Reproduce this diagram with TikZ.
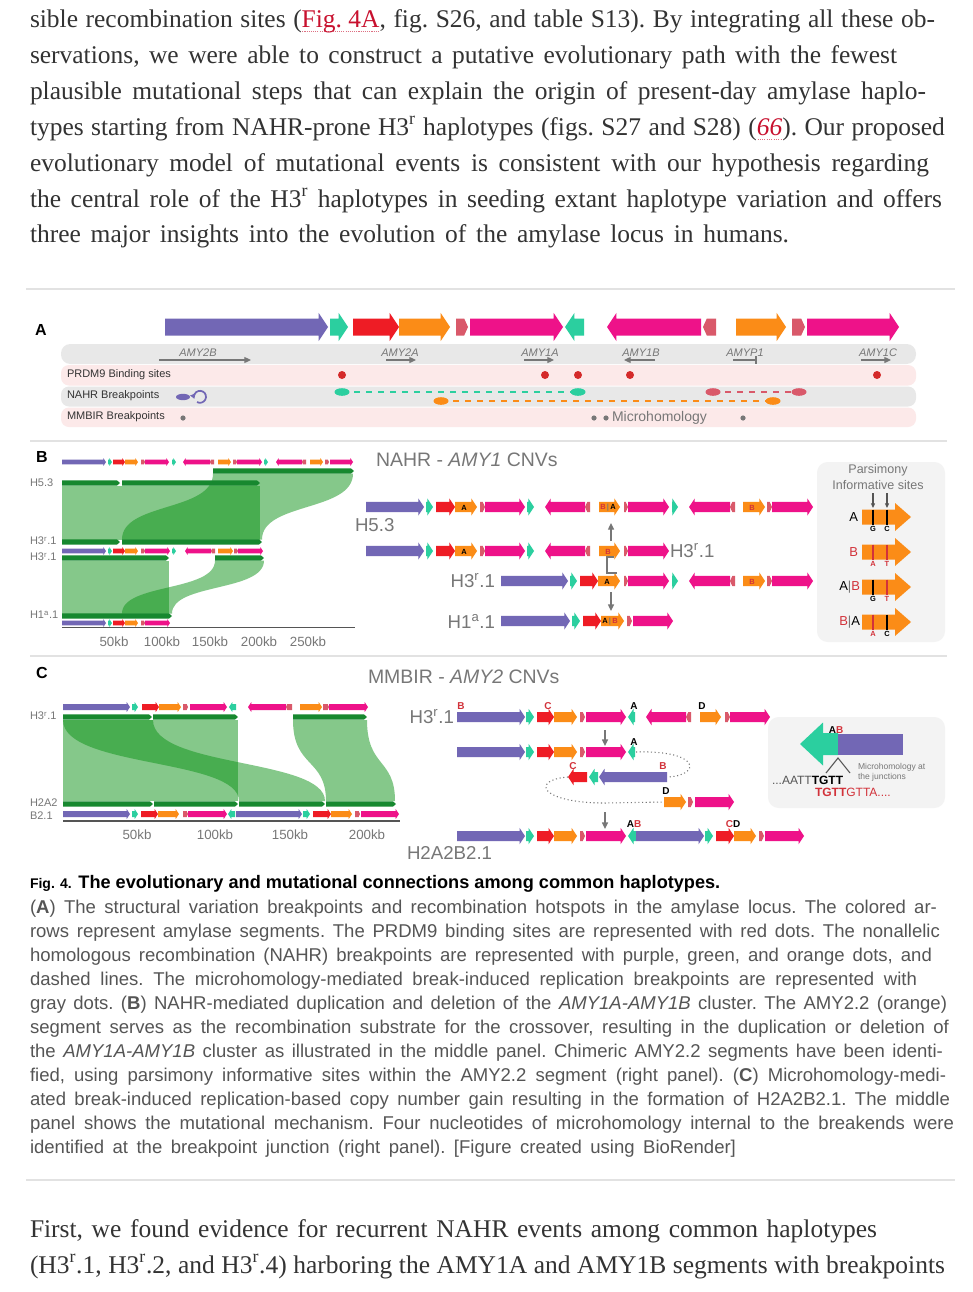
\documentclass[tikz,border=0pt]{standalone}
\usepackage{fontspec}
\setmainfont{Liberation Serif}
\setsansfont{Liberation Sans}
\usetikzlibrary{arrows.meta}
\definecolor{purp}{HTML}{7267B5}
\definecolor{tl}{HTML}{2BCF9F}
\definecolor{rd}{HTML}{EE1C25}
\definecolor{org}{HTML}{FB8C17}
\definecolor{salm}{HTML}{D9596A}
\definecolor{mag}{HTML}{EE1289}
\definecolor{dg}{HTML}{17882F}
\definecolor{rib}{HTML}{0D9317}
\definecolor{txt}{HTML}{333333}
\definecolor{cap}{HTML}{555555}
\definecolor{lg}{HTML}{777777}
\definecolor{lnk}{HTML}{C8102E}
\definecolor{bandg}{HTML}{E8E8E8}
\definecolor{bandp}{HTML}{FCE9E9}
\definecolor{boxg}{HTML}{F3F3F3}
\definecolor{bred}{HTML}{D2323A}
\definecolor{dotred}{HTML}{D42A2A}
\definecolor{rulec}{HTML}{E2E2E2}
\newcommand\fs[1]{\fontsize{#1}{#1}\selectfont}
\newcommand\jl[2]{\hbox to \dimexpr #1pt*3/4\relax{\frenchspacing\spaceskip=0.25em plus 0.8em minus 0.12em\relax #2}}
\newcommand\lk[1]{\setbox0\hbox{\textcolor{lnk}{#1}}\rlap{\raisebox{-3.5pt}{\hbox to \wd0{\color{lnk!60}\xleaders\hbox to 1.6pt{\hss\vrule width 0.8pt height 0.7pt\hss}\hfil}}}\box0}
% right arrow: x1 x2 y bodyhalf headhalf headlen colour
\newcommand\ARW[7]{\fill[#7] (#1,{#3-#4}) -- ({#2-#6},{#3-#4}) -- ({#2-#6},{#3-#5}) -- (#2,#3) -- ({#2-#6},{#3+#5}) -- ({#2-#6},{#3+#4}) -- (#1,{#3+#4}) -- cycle;}
% left arrow: tip x1, tail x2
\newcommand\ARL[7]{\fill[#7] (#2,{#3-#4}) -- ({#1+#6},{#3-#4}) -- ({#1+#6},{#3-#5}) -- (#1,#3) -- ({#1+#6},{#3+#5}) -- ({#1+#6},{#3+#4}) -- (#2,{#3+#4}) -- cycle;}
\newcommand\RA[5]{\ARW{#1}{#2}{#3}{#4}{1.65*#4}{1.1*#4}{#5}}
\newcommand\LA[5]{\ARL{#1}{#2}{#3}{#4}{1.65*#4}{1.1*#4}{#5}}
\newcommand\SA[4]{\ARW{#1}{#2}{#3}{#4}{#4}{0.45*#4}{salm}}
\newcommand\SL[4]{\ARL{#1}{#2}{#3}{#4}{#4}{0.45*#4}{salm}}
\newcommand\GB[3]{\ARW{#1}{#2}{#3}{2.6}{2.6}{3}{dg}}
\begin{document}
\begin{tikzpicture}[x=0.75pt,y=-0.75pt,
  every node/.style={inner sep=0pt, outer sep=0pt},
  body/.style={anchor=base west, font=\fs{19.1pt}, text=txt},
  capl/.style={anchor=base west, font=\sffamily\fs{13.9pt}, text=cap},
  capt/.style={anchor=base west, font=\sffamily\bfseries\fs{13.6pt}, text=black},
  plet/.style={font=\sffamily\bfseries\fs{12pt}, text=black},
  rowlab/.style={anchor=west, font=\sffamily\fs{8.25pt}, text=txt},
  gene/.style={font=\sffamily\itshape\fs{8.25pt}, text=lg},
  garr/.style={draw=lg, line width=0.9pt, -{Triangle[length=5pt,width=4.5pt]}},
  hlab/.style={anchor=west, font=\sffamily\fs{8.25pt}, text=lg},
  tick/.style={font=\sffamily\fs{10pt}, text=lg},
  mtitle/.style={anchor=west, font=\sffamily\fs{14.6pt}, text=lg},
  mlab/.style={font=\sffamily\fs{14pt}, text=lg},
  olet/.style={font=\sffamily\bfseries\fs{5.6pt}, text=black},
  clet/.style={font=\sffamily\bfseries\fs{7.5pt}, text=black},
  gar/.style={draw=lg, line width=1pt, -{Triangle[length=5pt,width=4.5pt]}},
  ribbon/.style={fill=rib, fill opacity=0.5},
  sep/.style={draw=rulec, line width=1.5pt}
]
\useasboundingbox (0,0) rectangle (972,1292);
\fill[white] (0,0) rectangle (972,1292);

% ---------------- top paragraph ----------------
\node[body] (p1) at (30,27) {\jl{905}{sible recombination sites (\lk{Fig. 4A}, fig. S26, and table S13). By integrating all these ob-}};
\node[body] (p2) at (30,63) {\jl{867}{servations, we were able to construct a putative evolutionary path with the fewest}};
\node[body] (p3) at (30,99) {\jl{896}{plausible mutational steps that can explain the origin of present-day amylase haplo-}};
\node[body] (p4) at (30,135) {\jl{915}{types starting from NAHR-prone H3\textsuperscript{r} haplotypes (figs. S27 and S28) (\lk{\textit{66}}). Our proposed}};
\node[body] (p5) at (30,171) {\jl{899}{evolutionary model of mutational events is consistent with our hypothesis regarding}};
\node[body] (p6) at (30,207) {\jl{912}{the central role of the H3\textsuperscript{r} haplotypes in seeding extant haplotype variation and offers}};
\node[body] (p7) at (30,242) {\jl{759}{three major insights into the evolution of the amylase locus in humans.}};
\draw[sep] (26,289) -- (955,289);

% ---------------- panel A ----------------
\node[plet] (lA) at (41,330) {A};
\RA{165}{328}{327}{8.5}{purp}
\RA{330}{348}{327}{8.5}{tl}
\RA{353}{399}{327}{8.5}{rd}
\RA{399}{450}{327}{8.5}{org}
\SA{456}{468}{327}{8.5}
\RA{470}{563}{327}{8.5}{mag}
\LA{565}{584}{327}{8.5}{tl}
\LA{607}{701}{327}{8.5}{mag}
\SL{703}{716}{327}{8.5}
\RA{736}{786}{327}{8.5}{org}
\SA{792}{805}{327}{8.5}
\RA{807}{899}{327}{8.5}{mag}

\fill[bandg, rounded corners=7pt] (61,344) rectangle (916,364);
\fill[bandp, rounded corners=6pt] (61,365) rectangle (916,385.5);
\fill[bandg, rounded corners=6pt] (61,386.5) rectangle (916,406.5);
\fill[bandp, rounded corners=6pt] (61,407.5) rectangle (916,427);

\node[gene] (g1) at (198,352.5) {AMY2B};
\coordinate (g1a) at (159,360); \coordinate (g1b) at (251,360);
\draw[garr] (g1a) -- (g1b);
\node[gene] (g2) at (400,352.5) {AMY2A};
\coordinate (g2a) at (386,360); \coordinate (g2b) at (416,360);
\draw[garr] (g2a) -- (g2b);
\node[gene] (g3) at (540,352.5) {AMY1A};
\coordinate (g3a) at (524,360); \coordinate (g3b) at (554,360);
\draw[garr] (g3a) -- (g3b);
\node[gene] (g4) at (641,352.5) {AMY1B};
\coordinate (g4a) at (655,360); \coordinate (g4b) at (624,360);
\draw[garr] (g4a) -- (g4b);
\node[gene] (g5) at (745,352.5) {AMYP1};
\coordinate (g5a) at (733,360); \coordinate (g5b) at (756,360);
\draw[draw=lg, line width=0.9pt] (g5a) -- (g5b);
\draw[draw=lg, line width=0.9pt] ([yshift=3pt]g5b) -- ([yshift=-3pt]g5b);
\node[gene] (g6) at (878,352.5) {AMY1C};
\coordinate (g6a) at (861,360); \coordinate (g6b) at (891,360);
\draw[garr] (g6a) -- (g6b);

\node[rowlab] (prdm) at (67,375) {PRDM9 Binding sites};
\node[rowlab] (nahr) at (67,396) {NAHR Breakpoints};
\node[rowlab] (mmbir) at (67,417) {MMBIR Breakpoints};

\foreach \xx in {342,545,578,630,877} {\fill[dotred] (\xx,375) circle[radius=4];}

\fill[purp] (183,397) ellipse[x radius=7, y radius=3.2];
\draw[purp, line width=1.3pt, -{Triangle[length=3.5pt,width=4pt]}] (197,402) arc[start angle=120, end angle=-200, radius=6];

\coordinate (t1) at (342,392); \coordinate (t2) at (578,392);
\draw[tl, line width=1pt, dash pattern=on 4.5pt off 4.5pt] (t1) -- (t2);
\fill[tl] (t1) ellipse[x radius=7.5, y radius=3.8];
\fill[tl] (t2) ellipse[x radius=7.5, y radius=3.8];
\coordinate (o1) at (441,401); \coordinate (o2) at (773,401);
\draw[org, line width=1pt, dash pattern=on 4.5pt off 4.5pt] (o1) -- (o2);
\fill[org] (o1) ellipse[x radius=7.5, y radius=3.8];
\fill[org] (o2) ellipse[x radius=7.5, y radius=3.8];
\coordinate (s1) at (713,392); \coordinate (s2) at (799,392);
\draw[salm, line width=1pt, dash pattern=on 4.5pt off 4.5pt] (s1) -- (s2);
\fill[salm] (s1) ellipse[x radius=7.5, y radius=3.8];
\fill[salm] (s2) ellipse[x radius=7.5, y radius=3.8];

\fill[lg] (183,418) circle[radius=2.6];
\fill[lg] (594,418) circle[radius=2.6];
\fill[lg] (606,418) circle[radius=2.6];
\fill[lg] (743,418) circle[radius=2.6];
\node[anchor=west, font=\sffamily\fs{10.5pt}, text=lg] (micro) at (612,418) {Microhomology};

\draw[sep, line width=1pt] (30,441) -- (947,441);

% ---------------- panel B left ----------------
\node[plet] (lB) at (42,457) {B};
\fill[ribbon] (62,485.5) rectangle (260,539.5);
\fill[ribbon] (213,473.5) -- (353,473.5) .. controls (353,512) and (262,502) .. (262,539.5) -- (122,539.5) .. controls (122,502) and (213,512) .. (213,473.5) -- cycle;
\fill[ribbon] (62,560.5) rectangle (169,613.5);
\fill[ribbon] (215,560.5) -- (264,560.5) .. controls (264,592) and (172,583) .. (172,613.5) -- (122,613.5) .. controls (122,583) and (215,592) .. (215,560.5) -- cycle;

\RA{62}{106}{462}{2.3}{purp} \RA{108}{112}{462}{2.3}{tl} \RA{113}{125}{462}{2.3}{rd}
\RA{125}{138}{462}{2.3}{org} \SA{141}{145}{462}{2.3} \RA{145}{169}{462}{2.3}{mag}
\RA{172}{176}{462}{2.3}{tl} \LA{183}{210}{462}{2.3}{mag} \SL{210}{214}{462}{2.3}
\RA{218}{231}{462}{2.3}{org} \SA{233}{237}{462}{2.3} \RA{237}{262}{462}{2.3}{mag}
\RA{264}{268}{462}{2.3}{tl} \LA{276}{302}{462}{2.3}{mag} \SL{302}{306}{462}{2.3}
\RA{310}{323}{462}{2.3}{org} \SA{325}{329}{462}{2.3} \RA{330}{353}{462}{2.3}{mag}

\GB{213}{354}{471}
\GB{62}{120}{483} \GB{122}{260}{483}
\GB{62}{120}{542} \GB{122}{262}{542}
\RA{62}{106}{551}{2.3}{purp} \RA{108}{112}{551}{2.3}{tl} \RA{113}{125}{551}{2.3}{rd}
\RA{125}{138}{551}{2.3}{org} \SA{141}{145}{551}{2.3} \RA{145}{170}{551}{2.3}{mag}
\RA{172}{176}{551}{2.3}{tl} \LA{185}{211}{551}{2.3}{mag} \SL{211}{215}{551}{2.3}
\RA{218}{233}{551}{2.3}{org} \SA{234}{238}{551}{2.3} \RA{238}{263}{551}{2.3}{mag}
\GB{62}{169}{558} \GB{215}{264}{558}
\GB{62}{172}{616}
\RA{62}{106}{623}{2.3}{purp} \RA{108}{112}{623}{2.3}{tl} \RA{113}{125}{623}{2.3}{rd}
\RA{125}{138}{623}{2.3}{org} \SA{141}{145}{623}{2.3} \RA{145}{170}{623}{2.3}{mag}
\coordinate (axB1) at (62,627.5); \coordinate (axB2) at (355,627.5);
\draw[draw=cap, line width=1.3pt] (axB1) -- (axB2);

\node[hlab] (hb1) at (30,483) {H5.3};
\node[hlab] (hb2) at (30,541) {H3\textsuperscript{r}.1};
\node[hlab] (hb3) at (30,557) {H3\textsuperscript{r}.1};
\node[hlab] (hb4) at (30,615) {H1\textsuperscript{a}.1};
\node[tick] (tb1) at (114,642) {50kb};
\node[tick] (tb2) at (162,642) {100kb};
\node[tick] (tb3) at (210,642) {150kb};
\node[tick] (tb4) at (259,642) {200kb};
\node[tick] (tb5) at (308,642) {250kb};

% ---------------- panel B middle ----------------
\node[mtitle] (nt) at (376,460) {NAHR - \textit{AMY1} CNVs};
% row 1
\RA{366}{424}{507}{5.2}{purp} \RA{426}{433}{507}{5.2}{tl} \RA{436}{455}{507}{5.2}{rd}
\RA{455}{477}{507}{5.2}{org} \SA{480}{485}{507}{5.2} \RA{485}{525}{507}{5.2}{mag}
\RA{527}{534}{507}{5.2}{tl} \LA{545}{585}{507}{5.2}{mag} \SL{585}{590}{507}{5.2}
\RA{599}{620}{507}{5.2}{org} \SA{624}{628}{507}{5.2} \RA{628}{669}{507}{5.2}{mag}
\RA{672}{678}{507}{5.2}{tl} \LA{689}{730}{507}{5.2}{mag} \SL{730}{735}{507}{5.2}
\RA{743}{765}{507}{5.2}{org} \SA{767}{772}{507}{5.2} \RA{772}{813}{507}{5.2}{mag}
\node[olet] (r1a) at (464,507.5) {A};
\node[olet] (r1ba) at (608,507.5) {\textcolor{bred}{B}\textcolor{lg}{\,|\,}A};
\node[olet, text=bred] (r1b) at (752,507.5) {B};
% row 2
\RA{366}{424}{551}{5.2}{purp} \RA{426}{433}{551}{5.2}{tl} \RA{436}{455}{551}{5.2}{rd}
\RA{455}{477}{551}{5.2}{org} \SA{480}{485}{551}{5.2} \RA{485}{525}{551}{5.2}{mag}
\RA{527}{534}{551}{5.2}{tl} \LA{545}{585}{551}{5.2}{mag} \SL{585}{590}{551}{5.2}
\RA{599}{620}{551}{5.2}{org} \SA{624}{628}{551}{5.2} \RA{628}{669}{551}{5.2}{mag}
\node[olet] (r2a) at (464,551.5) {A};
\node[olet, text=bred] (r2b) at (608,551.5) {B};
% row 3
\RA{501}{568}{581}{5.2}{purp} \RA{570}{577}{581}{5.2}{tl} \RA{580}{598}{581}{5.2}{rd}
\RA{598}{620}{581}{5.2}{org} \SA{624}{628}{581}{5.2} \RA{628}{669}{581}{5.2}{mag}
\RA{672}{678}{581}{5.2}{tl} \LA{689}{730}{581}{5.2}{mag} \SL{730}{735}{581}{5.2}
\RA{743}{765}{581}{5.2}{org} \SA{767}{772}{581}{5.2} \RA{772}{813}{581}{5.2}{mag}
\node[olet] (r3a) at (607,581.5) {A};
\node[olet, text=bred] (r3b) at (752,581.5) {B};
% row 4
\RA{501}{570}{621}{5.2}{purp} \RA{572}{580}{621}{5.2}{tl} \RA{583}{601}{621}{5.2}{rd}
\RA{601}{624}{621}{5.2}{org} \SA{627}{632}{621}{5.2} \RA{633}{673}{621}{5.2}{mag}
\node[olet] (r4ab) at (610,621.5) {A\textcolor{lg}{\,|\,}\textcolor{bred}{B}};

\node[mlab, anchor=west] (mb1) at (355,525) {H5.3};
\node[mlab, anchor=west] (mb2) at (670,551) {H3\textsuperscript{r}.1};
\node[mlab, anchor=east] (mb3) at (495,581) {H3\textsuperscript{r}.1};
\node[mlab, anchor=east] (mb4) at (495,621) {H1\textsuperscript{a}.1};
\coordinate (up1) at (611,541); \coordinate (up2) at (611,523);
\draw[gar] (up1) -- (up2);
\coordinate (dn1) at (611,592); \coordinate (dn2) at (611,611);
\draw[gar] (dn1) -- (dn2);
\coordinate (br1) at (614,557); \coordinate (br2) at (607,557);
\coordinate (br3) at (607,573); \coordinate (br4) at (617,573);
\draw[draw=lg, line width=1.2pt] (br1) -- (br2) -- (br3) -- (br4);

% ---------------- panel B right ----------------
\fill[boxg, rounded corners=8pt] (817,462) rectangle (945,642);
\node[font=\sffamily\fs{9.4pt}, text=lg] (pi1) at (878,470) {Parsimony};
\node[font=\sffamily\fs{9.4pt}, text=lg] (pi2) at (878,485) {Informative sites};
\coordinate (pa1) at (873,493); \coordinate (pa2) at (873,508);
\coordinate (pb1) at (887,493); \coordinate (pb2) at (887,508);
\draw[draw=cap, line width=0.8pt, -{Triangle[length=3.5pt,width=3pt]}] (pa1) -- (pa2);
\draw[draw=cap, line width=0.8pt, -{Triangle[length=3.5pt,width=3pt]}] (pb1) -- (pb2);
\foreach \yy/\ca/\cb/\la/\lb in {517/black/black/G/C, 552/bred/bred/A/T, 587/black/bred/G/T, 622/bred/black/A/C} {
  \ARW{862}{911}{\yy}{7.5}{14}{16}{org}
  \draw[\ca, line width=1.1pt] (873,\yy-7.5) -- (873,\yy+7.5);
  \draw[\cb, line width=1.1pt] (887,\yy-7.5) -- (887,\yy+7.5);
  \node[font=\sffamily\bfseries\fs{5.6pt}, text=\ca] at (873,\yy+12) {\la};
  \node[font=\sffamily\bfseries\fs{5.6pt}, text=\cb] at (887,\yy+12) {\lb};
}
\node[anchor=east, font=\sffamily\fs{9.75pt}, text=black] (pr1) at (858,517) {A};
\node[anchor=east, font=\sffamily\fs{9.75pt}, text=bred] (pr2) at (858,552) {B};
\node[anchor=east, font=\sffamily\fs{9.75pt}, text=black] (pr3) at (860,587) {A\textcolor{lg}{|}\textcolor{bred}{B}};
\node[anchor=east, font=\sffamily\fs{9.75pt}, text=black] (pr4) at (860,622) {\textcolor{bred}{B}\textcolor{lg}{|}A};

\draw[sep, line width=1pt] (30,656) -- (947,656);

% ---------------- panel C left ----------------
\node[plet] (lC) at (42,673) {C};
\fill[ribbon] (63,720) rectangle (238,801);
\fill[ribbon] (63,720) -- (153,720) .. controls (153,768) and (325,758) .. (325,801) -- (239,801) .. controls (239,758) and (63,768) .. (63,720) -- cycle;
\fill[ribbon] (293,720) -- (367,720) .. controls (367,768) and (395,758) .. (395,801) -- (326,801) .. controls (326,758) and (293,768) .. (293,720) -- cycle;

\RA{63}{130}{707}{3}{purp} \RA{132}{138}{707}{3}{tl} \RA{142}{159}{707}{3}{rd}
\RA{159}{181}{707}{3}{org} \SA{183}{188}{707}{3} \RA{190}{227}{707}{3}{mag}
\LA{229}{236}{707}{3}{tl} \LA{248}{286}{707}{3}{mag} \SL{286}{292}{707}{3}
\RA{300}{322}{707}{3}{org} \SA{323}{329}{707}{3} \RA{329}{368}{707}{3}{mag}
\GB{63}{152}{717} \GB{153}{238}{717} \GB{293}{367}{717}
\GB{63}{153}{804} \GB{154}{238}{804} \GB{239}{325}{804} \GB{326}{396}{804}
\RA{63}{130}{814}{3}{purp} \RA{132}{138}{814}{3}{tl} \RA{141}{158}{814}{3}{rd}
\RA{158}{179}{814}{3}{org} \SA{183}{188}{814}{3} \RA{188}{227}{814}{3}{mag}
\LA{228}{235}{814}{3}{tl} \RA{236}{302}{814}{3}{purp} \RA{303}{310}{814}{3}{tl}
\RA{313}{331}{814}{3}{rd} \RA{331}{352}{814}{3}{org} \SA{355}{360}{814}{3}
\RA{361}{399}{814}{3}{mag}
\coordinate (axC1) at (63,821); \coordinate (axC2) at (400,821);
\draw[draw=cap, line width=1.3pt] (axC1) -- (axC2);
\node[hlab] (hc1) at (30,716) {H3\textsuperscript{r}.1};
\node[hlab] (hc2) at (30,803) {H2A2};
\node[hlab] (hc3) at (30,816) {B2.1};
\node[tick] (tc1) at (137,835) {50kb};
\node[tick] (tc2) at (215,835) {100kb};
\node[tick] (tc3) at (290,835) {150kb};
\node[tick] (tc4) at (367,835) {200kb};

% ---------------- panel C middle ----------------
\node[mtitle] (mt) at (368,677) {MMBIR - \textit{AMY2} CNVs};
% row 1
\RA{457}{525}{717}{5}{purp} \RA{526}{534}{717}{5}{tl} \RA{537}{554}{717}{5}{rd}
\RA{554}{577}{717}{5}{org} \SA{580}{585}{717}{5} \RA{586}{626}{717}{5}{mag}
\LA{628}{635}{717}{5}{tl} \LA{646}{686}{717}{5}{mag} \SL{686}{691}{717}{5}
\RA{700}{721}{717}{5}{org} \SA{725}{730}{717}{5} \RA{730}{770}{717}{5}{mag}
\node[clet, text=bred] (c1b) at (461,706) {B};
\node[clet, text=bred] (c1c) at (548,706) {C};
\node[clet] (c1a) at (634,706) {A};
\node[clet] (c1d) at (702,706) {D};
% row 2
\RA{457}{525}{752}{5}{purp} \RA{526}{534}{752}{5}{tl} \RA{537}{554}{752}{5}{rd}
\RA{554}{577}{752}{5}{org} \SA{580}{585}{752}{5} \RA{586}{626}{752}{5}{mag}
\LA{628}{635}{752}{5}{tl}
\node[clet] (c2a) at (634,742) {A};
% row 3
\LA{568}{587}{777}{5}{rd} \LA{589}{598}{777}{5}{tl} \LA{599}{667}{777}{5}{purp}
\node[clet, text=bred] (c3c) at (573,766) {C};
\node[clet, text=bred] (c3b) at (663,766) {B};
% row 4
\RA{664}{686}{802}{5}{org} \SA{688}{693}{802}{5} \RA{695}{734}{802}{5}{mag}
\node[clet] (c4d) at (666,791) {D};
% row 5
\RA{457}{525}{836}{5}{purp} \RA{526}{534}{836}{5}{tl} \RA{537}{554}{836}{5}{rd}
\RA{554}{577}{836}{5}{org} \SA{580}{585}{836}{5} \RA{586}{626}{836}{5}{mag}
\LA{628}{636}{836}{5}{tl} \RA{636}{704}{836}{5}{purp} \RA{705}{713}{836}{5}{tl}
\RA{716}{734}{836}{5}{rd} \RA{734}{756}{836}{5}{org} \SA{759}{764}{836}{5}
\RA{765}{804}{836}{5}{mag}
\node[clet] (c5ab) at (634,824) {A\textcolor{bred}{B}};
\node[clet] (c5cd) at (733,824) {\textcolor{bred}{C}D};

\coordinate (d1a) at (605,730); \coordinate (d1b) at (605,746);
\draw[gar] (d1a) -- (d1b);
\coordinate (d2a) at (605,812); \coordinate (d2b) at (605,829);
\draw[gar] (d2a) -- (d2b);
\coordinate (lpA) at (636,752); \coordinate (lpB) at (668,777);
\draw[lg, line width=0.8pt, dotted] (lpA) .. controls (700,750) and (702,775) .. (lpB);
\coordinate (lpC) at (568,777); \coordinate (lpD) at (664,802);
\draw[lg, line width=0.8pt, dotted] (lpC) .. controls (530,780) and (540,803) .. (605,803) -- (lpD);

\node[mlab, anchor=east] (mc1) at (454,717) {H3\textsuperscript{r}.1};
\node[mlab, anchor=west] (mc2) at (407,853) {H2A2B2.1};

% ---------------- panel C right ----------------
\fill[boxg, rounded corners=8pt] (768,717) rectangle (945,808);
\ARL{800}{838}{744}{11}{21.5}{23}{tl}
\fill[purp] (838,734) rectangle (903,755);
\node[font=\sffamily\bfseries\fs{7.5pt}] (jab) at (836,730) {A\textcolor{bred}{B}};
\coordinate (ca1) at (826,773); \coordinate (ca2) at (838,758); \coordinate (ca3) at (850,773);
\draw[draw=cap, line width=0.8pt] (ca1) -- (ca2) -- (ca3);
\node[anchor=west, font=\sffamily\fs{9pt}, text=cap] (seq1) at (772,780) {...AATT\textcolor{black}{\textbf{TGTT}}};
\node[anchor=west, font=\sffamily\fs{9pt}, text=bred] (seq2) at (815,792) {\textbf{TGTT}GTTA....};
\node[anchor=west, font=\sffamily\fs{6.4pt}, text=lg] (mh1) at (858,767) {Microhomology at};
\node[anchor=west, font=\sffamily\fs{6.4pt}, text=lg] (mh2) at (858,777) {the junctions};

% ---------------- caption ----------------
\node[capt] (c0) at (30,888) {{\fs{10.5pt}Fig. 4.} The evolutionary and mutational connections among common haplotypes.};
\node[capl] (cl2) at (30,913) {\jl{907}{(\textbf{A}) The structural variation breakpoints and recombination hotspots in the amylase locus. The colored ar-}};
\node[capl] (cl3) at (30,937) {\jl{910}{rows represent amylase segments. The PRDM9 binding sites are represented with red dots. The nonallelic}};
\node[capl] (cl4) at (30,961) {\jl{902}{homologous recombination (NAHR) breakpoints are represented with purple, green, and orange dots, and}};
\node[capl] (cl5) at (30,985) {\jl{887}{dashed lines. The microhomology-mediated break-induced replication breakpoints are represented with}};
\node[capl] (cl6) at (30,1009) {\jl{917}{gray dots. (\textbf{B}) NAHR-mediated duplication and deletion of the \textit{AMY1A-AMY1B} cluster. The AMY2.2 (orange)}};
\node[capl] (cl7) at (30,1033) {\jl{919}{segment serves as the recombination substrate for the crossover, resulting in the duplication or deletion of}};
\node[capl] (cl8) at (30,1057) {\jl{913}{the \textit{AMY1A-AMY1B} cluster as illustrated in the middle panel. Chimeric AMY2.2 segments have been identi-}};
\node[capl] (cl9) at (30,1081) {\jl{916}{fied, using parsimony informative sites within the AMY2.2 segment (right panel). (\textbf{C}) Microhomology-medi-}};
\node[capl] (cl10) at (30,1105) {\jl{920}{ated break-induced replication-based copy number gain resulting in the formation of H2A2B2.1. The middle}};
\node[capl] (cl11) at (30,1129) {\jl{924}{panel shows the mutational mechanism. Four nucleotides of microhomology internal to the breakends were}};
\node[capl] (cl12) at (30,1153) {\jl{706}{identified at the breakpoint junction (right panel). [Figure created using BioRender]}};

\draw[sep] (26,1180) -- (955,1180);

% ---------------- bottom paragraph ----------------
\node[body] (q1) at (30,1237) {\jl{847}{First, we found evidence for recurrent NAHR events among common haplotypes}};
\node[body] (q2) at (30,1273) {\jl{915}{(H3\textsuperscript{r}.1, H3\textsuperscript{r}.2, and H3\textsuperscript{r}.4) harboring the AMY1A and AMY1B segments with breakpoints}};
\end{tikzpicture}
\end{document}
